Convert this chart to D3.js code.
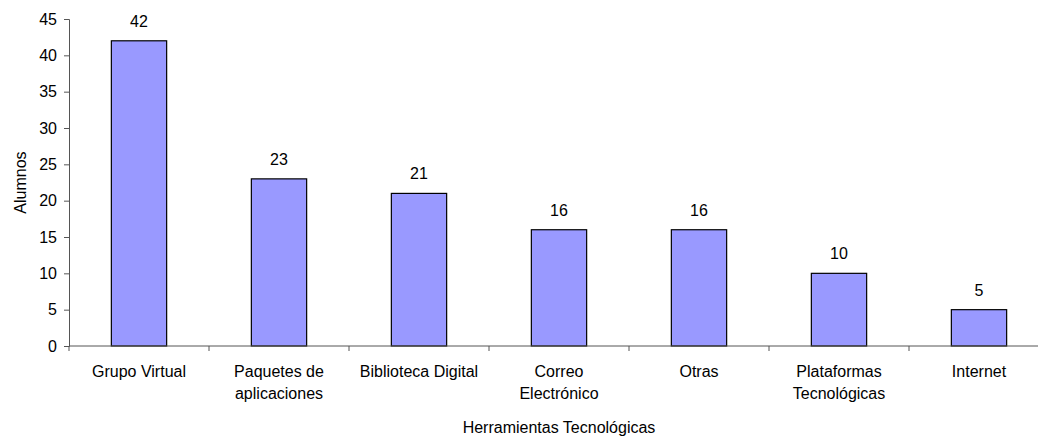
<!DOCTYPE html>
<html>
<head>
<meta charset="utf-8">
<script src="https://cdn.jsdelivr.net/npm/d3@7"></script>
<style>
  html, body { margin: 0; padding: 0; background: #fff; }
  svg { display: block; font-family: "Liberation Sans", Arial, sans-serif; }
</style>
</head>
<body>
<svg id="chart" width="1038" height="437"></svg>
<script>
// Herramientas usadas por los alumnos
const categories = [
  ["Grupo Virtual"],
  ["Paquetes de", "aplicaciones"],
  ["Biblioteca Digital"],
  ["Correo", "Electrónico"],
  ["Otras"],
  ["Plataformas", "Tecnológicas"],
  ["Internet"]
];
const values = [42, 23, 21, 16, 16, 10, 5];
const yTicks = [0, 5, 10, 15, 20, 25, 30, 35, 40, 45];
const xTitle = "Herramientas Tecnológicas";
const yTitle = "Alumnos";

(function () {
  const svg = d3.select("#chart");
  const plotLeft = 69, plotRight = 1049, plotTop = 19, plotBottom = 346;
  const fontSize = 16;
  const textColor = "#000";

  const ids = categories.map((c, i) => i);
  const x = d3.scaleBand().domain(ids).range([plotLeft, plotRight]).paddingInner(0).paddingOuter(0);
  const y = d3.scaleLinear().domain([0, 45]).range([plotBottom, plotTop]);

  const barW = x.bandwidth() * 0.395;

  // bars
  svg.append("g").selectAll("rect").data(values).join("rect")
    .attr("x", (d, i) => x(i) + x.bandwidth() / 2 - barW / 2)
    .attr("y", d => y(d))
    .attr("width", barW)
    .attr("height", d => y(0) - y(d))
    .attr("fill", "#9999FF")
    .attr("stroke", "#000")
    .attr("stroke-width", 1.2);

  // value labels
  svg.append("g").selectAll("text").data(values).join("text")
    .attr("x", (d, i) => x(i) + x.bandwidth() / 2)
    .attr("y", d => y(d) - 14)
    .attr("text-anchor", "middle")
    .attr("font-size", fontSize)
    .attr("fill", textColor)
    .text(d => d);

  // y axis
  const yAxis = svg.append("g")
    .attr("transform", `translate(${plotLeft},0)`)
    .call(d3.axisLeft(y).tickValues(yTicks).tickSize(5).tickPadding(7));
  yAxis.select(".domain").attr("stroke", "#555");
  yAxis.selectAll(".tick line").attr("stroke", "#555");
  yAxis.selectAll(".tick text")
    .attr("font-size", fontSize)
    .attr("font-family", "Liberation Sans, Arial, sans-serif")
    .attr("fill", textColor);

  // x axis: ticks on category boundaries
  const boundaries = d3.range(categories.length + 1).map(i => plotLeft + i * x.bandwidth());
  const xAxisG = svg.append("g");
  xAxisG.append("line")
    .attr("x1", plotLeft).attr("x2", plotRight)
    .attr("y1", plotBottom).attr("y2", plotBottom)
    .attr("stroke", "#555");
  xAxisG.selectAll("line.tk").data(boundaries).join("line")
    .attr("class", "tk")
    .attr("x1", d => d).attr("x2", d => d)
    .attr("y1", plotBottom).attr("y2", plotBottom + 5)
    .attr("stroke", "#555");

  // category labels
  const catG = svg.append("g").selectAll("text").data(categories).join("text")
    .attr("x", (d, i) => x(i) + x.bandwidth() / 2)
    .attr("y", 377)
    .attr("text-anchor", "middle")
    .attr("font-size", fontSize)
    .attr("fill", textColor);
  catG.selectAll("tspan").data(d => d).join("tspan")
    .attr("x", function () { return d3.select(this.parentNode).attr("x"); })
    .attr("dy", (d, j) => j === 0 ? 0 : 22)
    .text(d => d);

  // axis titles
  svg.append("text")
    .attr("x", (plotLeft + plotRight) / 2).attr("y", 433)
    .attr("text-anchor", "middle")
    .attr("font-size", fontSize)
    .attr("fill", textColor)
    .text(xTitle);

  svg.append("text")
    .attr("transform", `translate(26,${(plotTop + plotBottom) / 2}) rotate(-90)`)
    .attr("text-anchor", "middle")
    .attr("font-size", fontSize)
    .attr("fill", textColor)
    .text(yTitle);
})();
</script>
</body>
</html>
